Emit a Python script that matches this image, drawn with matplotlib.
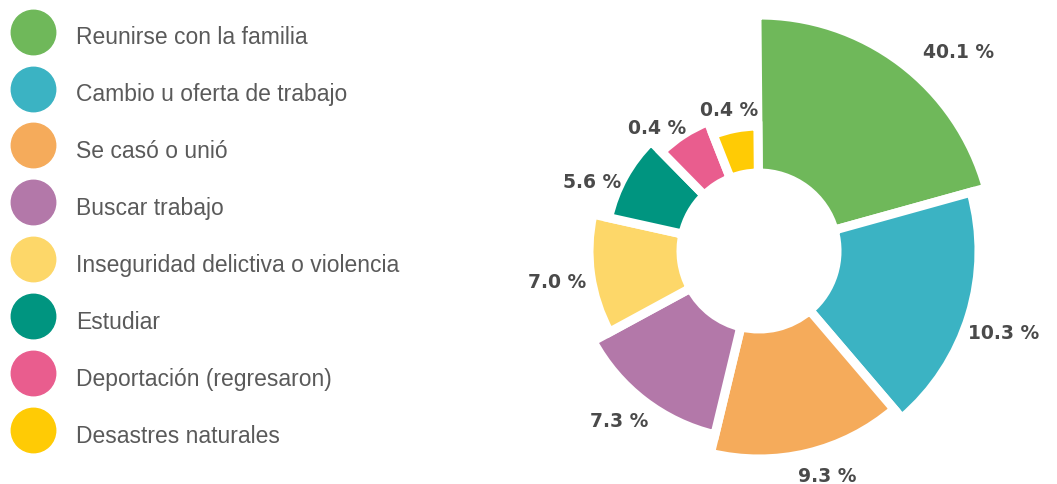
import matplotlib.pyplot as plt
from matplotlib.lines import Line2D
import numpy as np

motivos = ["Reunirse con la familia", "Cambio u oferta de trabajo", "Se casó o unió",
           "Buscar trabajo", "Inseguridad delictiva o violencia", "Estudiar",
           "Deportación (regresaron)", "Desastres naturales"]
porcentajes = [40.1, 10.3, 9.3, 7.3, 7.0, 5.6, 0.4, 0.4]
colores = ["#6fb85a", "#3bb3c3", "#f5ab5b", "#b378a9", "#fdd769", "#009580", "#e95d8e", "#ffcb05"]

# estilo del original: ancho (grados) y radio de cada sector, ordenados por tamaño
anchos_grados = [75, 65, 54, 48, 41, 33, 23, 21]
radios = np.array([236, 220, 208, 189, 170, 154, 139, 125])
# ajuste de las etiquetas: giro (grados) y separación desde el borde exterior
giro_etiquetas = [-8, -1.5, 3.5, -2, 0.7, 6.4, 6.4, 0.7]
separacion = [46, 38, 27, 31, 34, 27, 21, 20]

W, H = 1057, 485
fig = plt.figure(figsize=(W / 100, H / 100), dpi=100)

anchos = np.radians(anchos_grados)
interior = 78
inicio = np.radians(90.5)
fin = inicio - np.cumsum(anchos)
centros = fin + anchos / 2

R = 300
cx, cy = 759, H - 252
ax = fig.add_axes([(cx - R) / W, (cy - R) / H, 2 * R / W, 2 * R / H], projection="polar")
ax.bar(centros, radios - interior, width=anchos, bottom=interior, color=colores,
       edgecolor="white", linewidth=6.5, align="center")
ax.set_rlim(0, R)
ax.axis("off")

for ang, r, p, g, s in zip(centros, radios, porcentajes, giro_etiquetas, separacion):
    ax.text(ang + np.radians(g), r + s, f"{p:.1f} %", ha="center", va="center",
            fontsize=13.5, fontweight="bold", color="#4a4a4a", family="DejaVu Sans")

handles = [Line2D([], [], marker="o", linestyle="none", markersize=32,
                  markerfacecolor=c, markeredgecolor=c) for c in colores]
fig.legend(handles, motivos, loc="upper left", bbox_to_anchor=(10.4 / W, 1 - 21 / H),
           frameon=False, borderpad=0, borderaxespad=0, handlelength=2.0,
           handleheight=1.78, labelspacing=1.08, handletextpad=0.85,
           prop={"family": "Liberation Sans", "size": 16.5}, labelcolor="#5a5a5a")

plt.savefig("out.png", dpi=100)
